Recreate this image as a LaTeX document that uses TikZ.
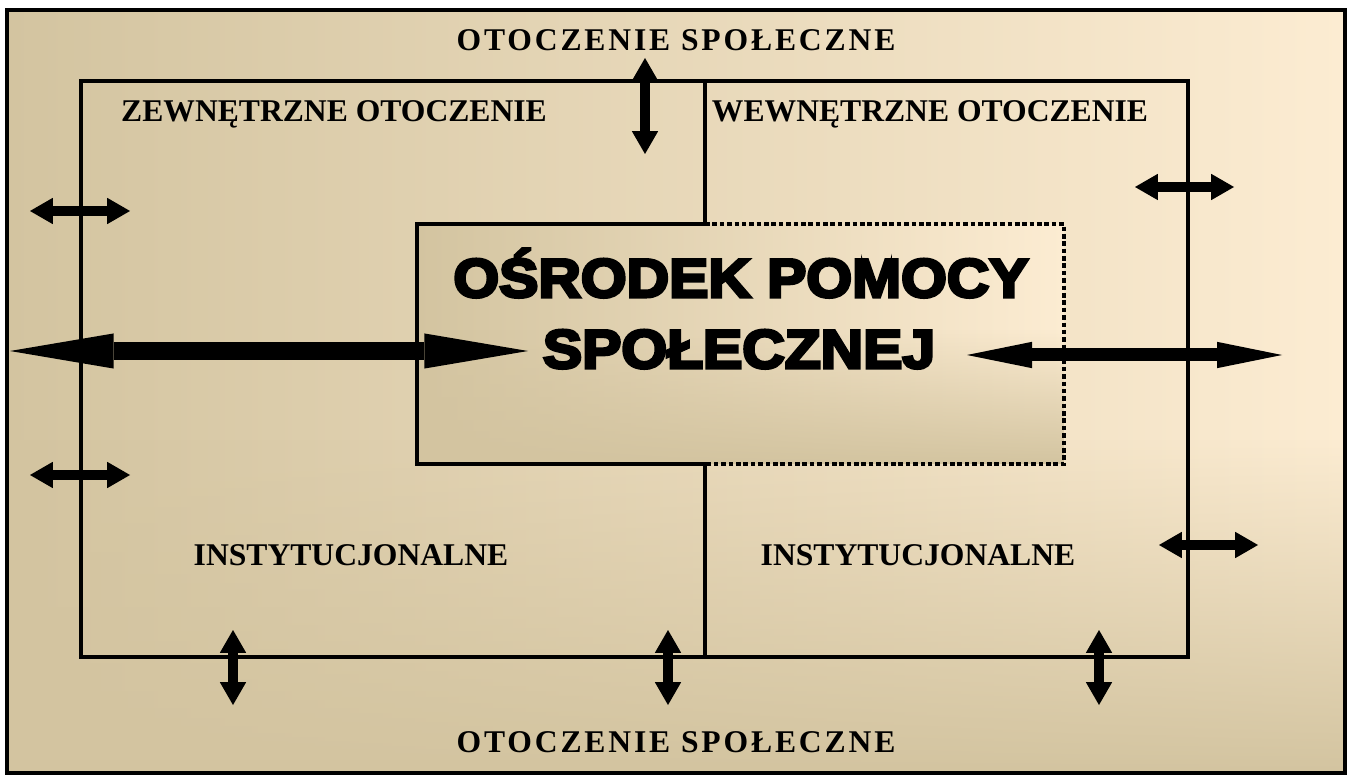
\documentclass[tikz,border=0pt]{standalone}
\usepackage{fontspec}
\setmainfont{Liberation Serif}
\newfontfamily\spacedfont[LetterSpace=9]{Liberation Serif}
\newfontfamily\blackfont[FakeBold=5.5,FakeStretch=1.08]{Liberation Sans}
\usetikzlibrary{arrows.meta,fadings}
\definecolor{sandtan}{RGB}{211,196,160}
\definecolor{creamlight}{RGB}{241,233,212}
\definecolor{peachcream}{RGB}{252,236,210}
\begin{document}
\begin{tikzpicture}
[
    x=0.02cm, y=-0.02cm,
    frameline/.style={line width=2.6pt},
    dotline/.style={line width=2.4pt, dash pattern=on 2.6pt off 1.6pt},
    label/.style={inner sep=0pt, anchor=base, font=\bfseries\fontsize{18}{20}\selectfont},
    spaced/.style={inner sep=0pt, anchor=base, font=\spacedfont\bfseries\fontsize{18}{20}\selectfont},
    heavy/.style={inner sep=0pt, anchor=base, font=\blackfont\bfseries\fontsize{31}{33}\selectfont},
    smallarrow/.style={line width=5.4pt, {Triangle[length=13pt,width=15pt,line width=0pt]}-{Triangle[length=13pt,width=15pt,line width=0pt]}},
    bigarrow/.style={line width=10pt, {Triangle[length=59pt,width=20pt,line width=0pt]}-{Triangle[length=59pt,width=20pt,line width=0pt]}},
    midarrow/.style={line width=7.4pt, {Triangle[length=37pt,width=15pt,line width=0pt]}-{Triangle[length=37pt,width=15pt,line width=0pt]}},
]
\useasboundingbox (0,0) rectangle (1352,776);
\fill[white] (0,0) rectangle (1352,776);
\shade[left color=sandtan, middle color=creamlight, right color=peachcream] (7,10) rectangle (1345,773);
\fill[sandtan, path fading=north] (7,440) rectangle (1345,773);
\shade[left color=sandtan, middle color=creamlight, right color=peachcream] (417,224) rectangle (1064,464);
\fill[sandtan, path fading=north] (417,330) rectangle (1064,464);
\draw[line width=2.2pt] (7,10) rectangle (1345,773);

\coordinate (inner nw) at (81,81);
\coordinate (inner se) at (1188,657);
\coordinate (div top) at (705,81);
\coordinate (div bot) at (705,657);
\coordinate (box nw) at (417,224);
\coordinate (box ne) at (1064,224);
\coordinate (box sw) at (417,464);
\coordinate (box se) at (1064,464);
\coordinate (box n) at (705,224);
\coordinate (box s) at (705,464);

\draw[frameline] (inner nw) rectangle (inner se);
\draw[frameline] (div top) -- (box n) -- (box nw) -- (box sw) -- (box s) -- (div bot);
\draw[dotline] (box n) -- (box ne) -- (box se) -- (box s);

\node[spaced] (top title) at (676,51) {OTOCZENIE SPOŁECZNE};
\node[spaced] (bottom title) at (676,752) {OTOCZENIE SPOŁECZNE};
\node[label] (outer env) at (334,122) {ZEWNĘTRZNE OTOCZENIE};
\node[label] (inner env) at (930,122) {WEWNĘTRZNE OTOCZENIE};
\node[label] (inst left) at (351,565) {INSTYTUCJONALNE};
\node[label] (inst right) at (918,565) {INSTYTUCJONALNE};
\node[heavy] (ops one) at (741,297) {OŚRODEK POMOCY};
\node[heavy] (ops two) at (739,368) {SPOŁECZNEJ};

\coordinate (a1) at (645,58);   \coordinate (b1) at (645,154);
\coordinate (a2) at (233,630);  \coordinate (b2) at (233,705);
\coordinate (a3) at (668,630);  \coordinate (b3) at (668,705);
\coordinate (a4) at (1099,630); \coordinate (b4) at (1099,705);
\coordinate (a5) at (30,211);   \coordinate (b5) at (130,211);
\coordinate (a6) at (30,475);   \coordinate (b6) at (130,475);
\coordinate (a7) at (1135,187); \coordinate (b7) at (1234,187);
\coordinate (a8) at (1159,545); \coordinate (b8) at (1258,545);
\foreach \i in {1,...,8}
    \draw[smallarrow] (a\i) -- (b\i);
\coordinate (big west) at (10,351);
\coordinate (big east) at (528,351);
\coordinate (mid west) at (967,355);
\coordinate (mid east) at (1282,355);
\draw[bigarrow] (big west) -- (big east);
\draw[midarrow] (mid west) -- (mid east);
\end{tikzpicture}
\end{document}
